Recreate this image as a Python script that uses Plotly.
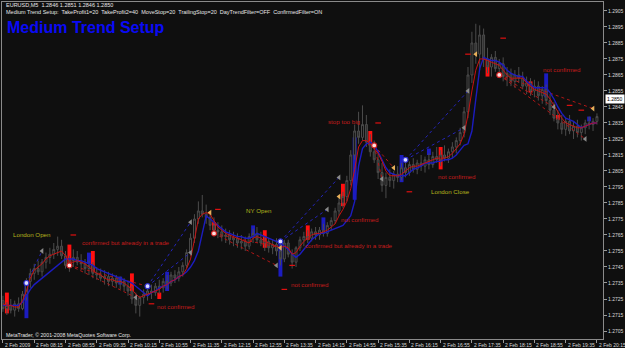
import plotly.graph_objects as go

# ---------------- data (EURUSD M5, 2 Feb 2009) ----------------
open_p = [1.2724,1.2719,1.2721,1.2718,1.2722,1.2719,1.2728,1.2736,1.2741,1.2744,
1.2742,1.2748,1.2751,1.2753,1.2756,1.2758,1.2752,1.2746,1.2749,1.2751,
1.2748,1.2747,1.2744,1.2746,1.2741,1.2740,1.2738,1.2739,1.2736,1.2738,
1.2735,1.2736,1.2733,1.2730,1.2725,1.2721,1.2726,1.2728,1.2730,1.2729,
1.2733,1.2732,1.2736,1.2735,1.2740,1.2738,1.2742,1.2746,1.2754,1.2763,
1.2775,1.2780,1.2778,1.2776,1.2771,1.2768,1.2767,1.2764,1.2765,1.2762,
1.2763,1.2760,1.2761,1.2758,1.2764,1.2766,1.2762,1.2760,1.2761,1.2757,
1.2759,1.2755,1.2750,1.2760,1.2753,1.2748,1.2757,1.2762,1.2764,1.2763,
1.2767,1.2765,1.2768,1.2766,1.2771,1.2774,1.2780,1.2785,1.2789,1.2799,
1.2815,1.2830,1.2826,1.2834,1.2823,1.2817,1.2812,1.2804,1.2796,1.2801,
1.2799,1.2803,1.2801,1.2807,1.2804,1.2809,1.2806,1.2810,1.2808,1.2812,
1.2809,1.2814,1.2812,1.2815,1.2813,1.2817,1.2820,1.2824,1.2829,1.2842,
1.2865,1.2885,1.2878,1.2890,1.2875,1.2870,1.2876,1.2869,1.2872,1.2864,
1.2866,1.2861,1.2865,1.2863,1.2858,1.2860,1.2855,1.2858,1.2852,1.2856,
1.2849,1.2843,1.2838,1.2835,1.2831,1.2836,1.2830,1.2833,1.2829,1.2832,
1.2835,1.2834,1.2836]
high_p = [1.2727,1.2723,1.2725,1.2724,1.2726,1.2730,1.2738,1.2744,1.2747,1.2749,
1.2750,1.2754,1.2757,1.2760,1.2764,1.2762,1.2755,1.2752,1.2756,1.2755,
1.2753,1.2750,1.2749,1.2748,1.2745,1.2744,1.2743,1.2742,1.2741,1.2740,
1.2739,1.2738,1.2736,1.2733,1.2729,1.2727,1.2731,1.2733,1.2734,1.2735,
1.2737,1.2738,1.2740,1.2742,1.2743,1.2745,1.2748,1.2756,1.2766,1.2778,
1.2786,1.2790,1.2784,1.2780,1.2776,1.2773,1.2771,1.2769,1.2768,1.2767,
1.2766,1.2765,1.2764,1.2766,1.2769,1.2770,1.2767,1.2764,1.2763,1.2762,
1.2763,1.2760,1.2762,1.2762,1.2756,1.2758,1.2764,1.2767,1.2768,1.2769,
1.2770,1.2770,1.2772,1.2773,1.2776,1.2782,1.2788,1.2792,1.2802,1.2818,
1.2834,1.2842,1.2846,1.2840,1.2828,1.2824,1.2818,1.2810,1.2804,1.2806,
1.2805,1.2808,1.2810,1.2812,1.2811,1.2813,1.2812,1.2815,1.2814,1.2816,
1.2817,1.2820,1.2818,1.2821,1.2819,1.2823,1.2826,1.2832,1.2845,1.2870,
1.2892,1.2897,1.2896,1.2894,1.2882,1.2878,1.2880,1.2875,1.2876,1.2870,
1.2869,1.2868,1.2870,1.2867,1.2864,1.2863,1.2862,1.2861,1.2858,1.2859,
1.2853,1.2848,1.2843,1.2840,1.2838,1.2840,1.2836,1.2837,1.2834,1.2837,
1.2839,1.2838,1.2841]
low_p = [1.2717,1.2715,1.2716,1.2714,1.2717,1.2718,1.2724,1.2732,1.2737,1.2740,
1.2739,1.2744,1.2747,1.2750,1.2752,1.2750,1.2744,1.2742,1.2745,1.2746,
1.2743,1.2741,1.2740,1.2738,1.2737,1.2736,1.2734,1.2733,1.2733,1.2732,
1.2731,1.2730,1.2727,1.2722,1.2716,1.2714,1.2722,1.2724,1.2725,1.2727,
1.2728,1.2729,1.2731,1.2733,1.2735,1.2736,1.2739,1.2744,1.2752,1.2760,
1.2772,1.2776,1.2772,1.2768,1.2766,1.2763,1.2761,1.2760,1.2759,1.2758,
1.2757,1.2756,1.2755,1.2756,1.2760,1.2760,1.2758,1.2755,1.2754,1.2753,
1.2752,1.2746,1.2748,1.2751,1.2744,1.2745,1.2755,1.2758,1.2760,1.2761,
1.2762,1.2762,1.2764,1.2764,1.2768,1.2772,1.2777,1.2782,1.2786,1.2796,
1.2812,1.2822,1.2824,1.2820,1.2814,1.2810,1.2800,1.2792,1.2788,1.2795,
1.2794,1.2798,1.2799,1.2801,1.2802,1.2804,1.2803,1.2805,1.2804,1.2806,
1.2807,1.2810,1.2808,1.2811,1.2810,1.2813,1.2816,1.2821,1.2826,1.2838,
1.2860,1.2872,1.2868,1.2870,1.2866,1.2864,1.2867,1.2863,1.2861,1.2858,
1.2858,1.2857,1.2860,1.2856,1.2853,1.2852,1.2851,1.2849,1.2847,1.2846,
1.2840,1.2836,1.2831,1.2828,1.2827,1.2828,1.2825,1.2826,1.2824,1.2828,
1.2831,1.2830,1.2834]
close_p = [1.2719,1.2721,1.2718,1.2722,1.2719,1.2728,1.2736,1.2741,1.2744,1.2742,
1.2748,1.2751,1.2753,1.2756,1.2758,1.2752,1.2746,1.2749,1.2751,1.2748,
1.2747,1.2744,1.2746,1.2741,1.2740,1.2738,1.2739,1.2736,1.2738,1.2735,
1.2736,1.2733,1.2730,1.2725,1.2721,1.2726,1.2728,1.2730,1.2729,1.2733,
1.2732,1.2736,1.2735,1.2740,1.2738,1.2742,1.2746,1.2754,1.2763,1.2775,
1.2780,1.2778,1.2776,1.2771,1.2768,1.2767,1.2764,1.2765,1.2762,1.2763,
1.2760,1.2761,1.2758,1.2764,1.2766,1.2762,1.2760,1.2761,1.2757,1.2759,
1.2755,1.2750,1.2760,1.2753,1.2748,1.2757,1.2762,1.2764,1.2763,1.2767,
1.2765,1.2768,1.2766,1.2771,1.2774,1.2780,1.2785,1.2789,1.2799,1.2815,
1.2830,1.2826,1.2834,1.2823,1.2817,1.2812,1.2804,1.2796,1.2801,1.2799,
1.2803,1.2801,1.2807,1.2804,1.2809,1.2806,1.2810,1.2808,1.2812,1.2809,
1.2814,1.2812,1.2815,1.2813,1.2817,1.2820,1.2824,1.2829,1.2842,1.2865,
1.2885,1.2878,1.2890,1.2875,1.2870,1.2876,1.2869,1.2872,1.2864,1.2866,
1.2861,1.2865,1.2863,1.2858,1.2860,1.2855,1.2858,1.2852,1.2856,1.2849,
1.2843,1.2838,1.2835,1.2831,1.2836,1.2830,1.2833,1.2829,1.2832,1.2835,
1.2834,1.2836,1.2839]

ma_fast = [1.2722,1.2721,1.2721,1.2720,1.2720,1.2724,1.2730,1.2738,1.2743,1.2745,
1.2747,1.2750,1.2752,1.2753,1.2754,1.2755,1.2752,1.2748,1.2748,1.2749,
1.2748,1.2747,1.2745,1.2743,1.2741,1.2740,1.2738,1.2737,1.2737,1.2736,
1.2736,1.2735,1.2733,1.2731,1.2728,1.2726,1.2727,1.2728,1.2729,1.2730,
1.2731,1.2733,1.2734,1.2736,1.2737,1.2739,1.2740,1.2744,1.2750,1.2762,
1.2775,1.2778,1.2779,1.2778,1.2774,1.2770,1.2768,1.2766,1.2765,1.2764,
1.2763,1.2762,1.2761,1.2760,1.2763,1.2764,1.2763,1.2761,1.2760,1.2759,
1.2758,1.2757,1.2758,1.2757,1.2753,1.2754,1.2758,1.2761,1.2763,1.2765,
1.2766,1.2766,1.2767,1.2768,1.2770,1.2772,1.2777,1.2781,1.2786,1.2794,
1.2806,1.2820,1.2824,1.2824,1.2822,1.2819,1.2816,1.2811,1.2805,1.2802,
1.2802,1.2802,1.2803,1.2805,1.2807,1.2808,1.2808,1.2809,1.2810,1.2811,
1.2812,1.2813,1.2813,1.2813,1.2814,1.2816,1.2819,1.2822,1.2828,1.2840,
1.2855,1.2868,1.2875,1.2875,1.2874,1.2873,1.2872,1.2871,1.2868,1.2865,
1.2863,1.2863,1.2863,1.2863,1.2860,1.2858,1.2856,1.2855,1.2854,1.2853,
1.2850,1.2846,1.2842,1.2838,1.2835,1.2834,1.2833,1.2832,1.2832,1.2833,
1.2834,1.2835,1.2835]
ma_slow = [1.2721,1.2721,1.2721,1.2721,1.2721,1.2723,1.2727,1.2731,1.2734,1.2736,
1.2738,1.2740,1.2742,1.2744,1.2746,1.2748,1.2750,1.2750,1.2750,1.2749,
1.2749,1.2748,1.2747,1.2746,1.2744,1.2743,1.2742,1.2741,1.2740,1.2739,
1.2738,1.2737,1.2736,1.2735,1.2733,1.2731,1.2729,1.2727,1.2729,1.2730,
1.2732,1.2733,1.2734,1.2736,1.2737,1.2739,1.2740,1.2742,1.2745,1.2749,
1.2755,1.2766,1.2777,1.2775,1.2773,1.2771,1.2769,1.2767,1.2766,1.2765,
1.2764,1.2764,1.2763,1.2763,1.2764,1.2766,1.2765,1.2764,1.2763,1.2762,
1.2761,1.2760,1.2758,1.2756,1.2753,1.2751,1.2753,1.2756,1.2759,1.2762,
1.2764,1.2766,1.2766,1.2767,1.2768,1.2769,1.2770,1.2771,1.2774,1.2777,
1.2786,1.2808,1.2819,1.2822,1.2823,1.2821,1.2817,1.2812,1.2807,1.2804,
1.2803,1.2802,1.2802,1.2802,1.2804,1.2806,1.2807,1.2808,1.2810,1.2810,
1.2810,1.2811,1.2811,1.2812,1.2812,1.2813,1.2815,1.2818,1.2821,1.2822,
1.2830,1.2850,1.2869,1.2876,1.2875,1.2874,1.2874,1.2873,1.2871,1.2868,
1.2866,1.2865,1.2864,1.2864,1.2861,1.2859,1.2857,1.2857,1.2857,1.2857,
1.2854,1.2850,1.2845,1.2841,1.2838,1.2837,1.2836,1.2834,1.2832,1.2833,
1.2834,1.2835,1.2835]

# signal bars
sell_bar_x = [1, 17, 23, 33, 40, 54, 67, 78, 87, 94, 112, 124, 135, 142]
sell_bar_lo = [1.2716,1.2745,1.2742,1.2730,1.2725,1.2768,1.2757,1.2762,1.2783,1.2821,1.2806,1.2864,1.2854,1.2837]
sell_bar_hi = [1.2729,1.2759,1.2755,1.2741,1.2729,1.2773,1.2768,1.2771,1.2797,1.2830,1.2820,1.2875,1.2861,1.2840]
buy_bar_x = [6, 22, 30, 42, 64, 71, 82, 90, 102, 109, 139, 150]
buy_bar_lo = [1.2713,1.2747,1.2734,1.2730,1.2764,1.2739,1.2768,1.2787,1.2798,1.2815,1.2851,1.2836]
buy_bar_hi = [1.2736,1.2754,1.2739,1.2742,1.2771,1.2762,1.2776,1.2826,1.2815,1.2819,1.2866,1.2839]

# markers
dash_x = [18, 38, 55, 72, 74, 96, 104, 128, 119, 145, 148]
dash_y = [1.2765,1.2722,1.2781,1.2731,1.2746,1.2835,1.2792,1.2888,1.2878,1.2846,1.2843]
gold_x = [53, 71, 86, 100, 121, 151]
gold_y = [1.2779,1.2757,1.2789,1.2807,1.2878,1.2844]
gray_x = [10, 34, 48, 48, 70, 83, 86, 97, 118, 119, 141, 149]
gray_y = [1.2755,1.2726,1.2773,1.2754,1.2746,1.2781,1.2801,1.2800,1.2832,1.2855,1.2845,1.2825]
buy_x = [6, 37, 71, 103]
buy_y = [1.2735,1.2733,1.2761,1.2812]
sell_x = [17, 54, 95, 127]
sell_y = [1.2746,1.2766,1.2821,1.2865]

# dotted trade lines (from, to)
buy_line_x0 = [6, 37, 37, 71, 71, 103, 103]
buy_line_y0 = [1.2735,1.2733,1.2733,1.2761,1.2761,1.2812,1.2812]
buy_line_x1 = [10, 48, 48, 83, 86, 118, 119]
buy_line_y1 = [1.2755,1.2773,1.2754,1.2781,1.2801,1.2832,1.2855]
sell_line_x0 = [17, 17, 54, 54, 95, 95, 127, 127, 127]
sell_line_y0 = [1.2746,1.2746,1.2766,1.2766,1.2821,1.2821,1.2865,1.2865,1.2865]
sell_line_x1 = [34, 37, 70, 71, 97, 100, 141, 149, 151]
sell_line_y1 = [1.2726,1.2733,1.2746,1.2757,1.2800,1.2807,1.2845,1.2825,1.2844]

# text labels
note_text = ["confirmed but already in a trade", "not confirmed", "not confirmed",
             "confirmed but already in a trade", "not confirmed", "stop too big",
             "not confirmed", "not confirmed"]
note_x = [19.8, 38.8, 86.0, 76.9, 73.1, 82.7, 110.7, 137.8]
note_y = [1.27605, 1.27206, 1.27748, 1.27586, 1.27343, 1.28358, 1.28016, 1.28682]
session_text = ["London Open", "NY Open", "London Close"]
session_x = [2.0, 61.7, 108.9]
session_y = [1.27654, 1.2780, 1.27922]

price_ticks = [1.2705,1.2715,1.2725,1.2735,1.2745,1.2755,1.2765,1.2775,1.2785,1.2795,
               1.2805,1.2815,1.2825,1.2835,1.2845,1.2855,1.2865,1.2875,1.2885,1.2895,1.2905]
time_tick_bars = [0,8,16,24,32,40,48,56,64,72,80,88,96,104,112,120,128,136,144,152]
time_tick_labels = ["2 Feb 2009","2 Feb 08:15","2 Feb 08:55","2 Feb 09:35","2 Feb 10:15",
                    "2 Feb 10:55","2 Feb 11:35","2 Feb 12:15","2 Feb 12:55","2 Feb 13:35",
                    "2 Feb 14:15","2 Feb 14:55","2 Feb 15:35","2 Feb 16:15","2 Feb 16:55",
                    "2 Feb 17:35","2 Feb 18:15","2 Feb 18:55","2 Feb 19:35","2 Feb 20:15"]
last_price = 1.2850

# ---------------- figure ----------------
FONT = "Liberation Sans, Arial, sans-serif"
BG = "#0f0f0f"
bars = list(range(len(close_p)))

fig = go.Figure()

fig.add_trace(go.Candlestick(
    x=bars, open=open_p, high=high_p, low=low_p, close=close_p,
    increasing=dict(line=dict(color="#4c4c4c", width=1), fillcolor=BG),
    decreasing=dict(line=dict(color="#4c4c4c", width=1), fillcolor="#2e2e2e"),
    whiskerwidth=0, showlegend=False, hoverinfo="skip"))

# dotted trade lines
def seg(x0, y0, x1, y1):
    xs, ys = [], []
    for a, b, c, d in zip(x0, y0, x1, y1):
        xs += [a, c, None]
        ys += [b, d, None]
    return xs, ys

bx, by = seg(buy_line_x0, buy_line_y0, buy_line_x1, buy_line_y1)
fig.add_trace(go.Scatter(x=bx, y=by, mode="lines",
                         line=dict(color="#2424b8", width=1, dash="dot"), hoverinfo="skip"))
sx, sy = seg(sell_line_x0, sell_line_y0, sell_line_x1, sell_line_y1)
fig.add_trace(go.Scatter(x=sx, y=sy, mode="lines",
                         line=dict(color="#b01616", width=1, dash="dot"), hoverinfo="skip"))

# moving averages
fig.add_trace(go.Scatter(x=bars, y=ma_slow, mode="lines",
                         line=dict(color="#1c1cc0", width=1.4), hoverinfo="skip"))
fig.add_trace(go.Scatter(x=bars, y=ma_fast, mode="lines",
                         line=dict(color="#c81212", width=1.0), hoverinfo="skip"))

# signal bars
fig.add_trace(go.Bar(x=sell_bar_x, y=[h - l for h, l in zip(sell_bar_hi, sell_bar_lo)],
                     base=sell_bar_lo, width=1.0, marker=dict(color="#ff1010", line=dict(width=0)),
                     hoverinfo="skip"))
fig.add_trace(go.Bar(x=buy_bar_x, y=[h - l for h, l in zip(buy_bar_hi, buy_bar_lo)],
                     base=buy_bar_lo, width=1.0, marker=dict(color="#1c1cc0", line=dict(width=0)),
                     hoverinfo="skip"))

# small red dashes
fig.add_trace(go.Scatter(x=dash_x, y=dash_y, mode="markers",
                         marker=dict(symbol="line-ew", size=4, line=dict(color="#e01010", width=1.2)),
                         hoverinfo="skip"))
# arrows
fig.add_trace(go.Scatter(x=gray_x, y=gray_y, mode="markers",
                         marker=dict(symbol="triangle-left", size=5, color="#8a8a8a"), hoverinfo="skip"))
fig.add_trace(go.Scatter(x=gold_x, y=gold_y, mode="markers",
                         marker=dict(symbol="triangle-left", size=5, color="#e8b05a"), hoverinfo="skip"))
fig.add_trace(go.Scatter(x=buy_x, y=buy_y, mode="markers",
                         marker=dict(symbol="circle", size=5, color="#dcdcff",
                                     line=dict(color="#3030d0", width=1.2)), hoverinfo="skip"))
fig.add_trace(go.Scatter(x=sell_x, y=sell_y, mode="markers",
                         marker=dict(symbol="circle", size=5, color="#ffdcdc",
                                     line=dict(color="#d02020", width=1.2)), hoverinfo="skip"))

annotations = []
for t, x, y in zip(note_text, note_x, note_y):
    annotations.append(dict(x=x, y=y, text=t, showarrow=False, xanchor="left", yanchor="middle",
                            font=dict(family=FONT, size=6.2, color="#c41c1c")))
for t, x, y in zip(session_text, session_x, session_y):
    annotations.append(dict(x=x, y=y, text=t, showarrow=False, xanchor="left", yanchor="middle",
                            font=dict(family=FONT, size=6.2, color="#b4b41c")))
for b, t in zip(time_tick_bars, time_tick_labels):
    annotations.append(dict(x=b, y=0, yref="paper", text=t, showarrow=False, xanchor="left",
                            yanchor="top", xshift=0, yshift=-1,
                            font=dict(family=FONT, size=5, color="#d8d8d8")))

annotations += [
    dict(x=0.003, y=(339 - 4.5) / 338, xref="paper", yref="paper", showarrow=False,
         xanchor="left", yanchor="middle",
         text="EURUSD,M5  1.2846 1.2851 1.2846 1.2850",
         font=dict(family=FONT, size=5.5, color="#e6e6e6")),
    dict(x=0.003, y=(339 - 11) / 338, xref="paper", yref="paper", showarrow=False,
         xanchor="left", yanchor="middle",
         text="Medium Trend Setup:  TakeProfit1=20  TakeProfit2=40  MoveStop=20  TrailingStop=20  DayTrendFilter=OFF  ConfirmedFilter=ON",
         font=dict(family=FONT, size=5.5, color="#e6e6e6")),
    dict(x=0.005, y=(339 - 27) / 338, xref="paper", yref="paper", showarrow=False,
         xanchor="left", yanchor="middle", text="<b>Medium Trend Setup</b>",
         font=dict(family=FONT, size=16, color="#0a0af5")),
    dict(x=0.003, y=(339 - 335) / 338, xref="paper", yref="paper", showarrow=False,
         xanchor="left", yanchor="middle",
         text="MetaTrader, © 2001-2008 MetaQuotes Software Corp.",
         font=dict(family=FONT, size=5.2, color="#e6e6e6")),
    dict(x=1, y=last_price, xref="paper", yref="y", showarrow=False, xanchor="left",
         yanchor="middle", xshift=2, text=f"{last_price:.4f}", bgcolor="#ffffff",
         borderpad=1, font=dict(family=FONT, size=5, color="#000000")),
]

fig.update_layout(
    width=625, height=348,
    margin=dict(l=1, r=19, t=1, b=9),
    paper_bgcolor=BG, plot_bgcolor=BG,
    showlegend=False, barmode="overlay", hovermode=False,
    annotations=annotations,
    xaxis=dict(range=[-0.25, 153.55], showgrid=False, zeroline=False,
               rangeslider=dict(visible=False), tickvals=time_tick_bars,
               showticklabels=False, ticks="outside", ticklen=3, tickcolor="#9a9a9a",
               showline=True, mirror=True, linecolor="#8a8a8a", linewidth=1),
    yaxis=dict(range=[1.2700, 1.29106], side="right", showgrid=False, zeroline=False,
               tickvals=price_ticks, ticktext=[f"{v:.4f}" for v in price_ticks],
               ticks="outside", ticklen=3, tickcolor="#9a9a9a",
               tickfont=dict(family=FONT, size=5, color="#d8d8d8"),
               showline=True, mirror=True, linecolor="#8a8a8a", linewidth=1),
)

fig.write_html("out.html")
